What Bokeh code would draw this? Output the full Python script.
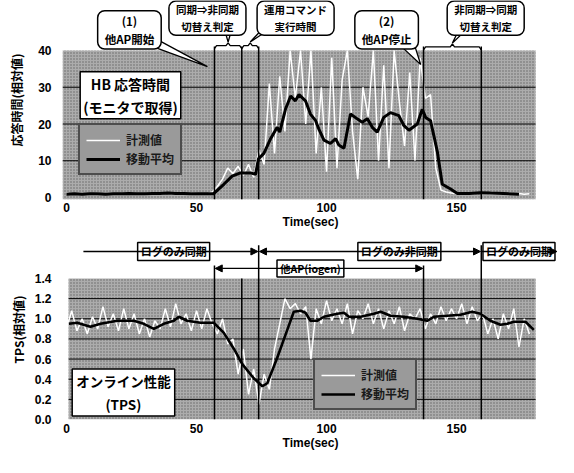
import numpy as np
from bokeh.plotting import figure
from bokeh.models import (Range1d, FixedTicker, PrintfTickFormatter, Legend, LegendItem,
                          Arrow, NormalHead)
from bokeh.layouts import column
from bokeh.embed import file_html
from bokeh.resources import INLINE
from bokeh.core.properties import value

# ---------------- data ----------------
x_ticks = [0, 50, 100, 150]
event_times = [56.9, 67.4, 73.9, 137.3, 159.5]

# HB response time (relative)
rt_y_ticks = [0, 10, 20, 30, 40]
rt_ma_t = [0, 3, 6, 9, 12, 15, 18, 21, 24, 27, 30, 33, 36, 39, 42, 45, 48, 51, 54, 56.5,
           60.5, 63.7, 66.9, 70.8, 72.7, 73.8, 75.9, 78.5, 81, 82, 84.2, 86.2, 88, 89.4, 91.9,
           93.8, 95.8, 97, 99, 101.5, 103.5, 104.7, 106.7, 109.2, 111.8, 113.7, 115.7, 117.6,
           119.5, 122, 124.6, 127.8, 129.7, 131.7, 134.9, 136.8, 138.1, 140, 142.6, 144.5,
           147.7, 150.3, 155, 159, 163, 168, 174]
rt_ma_v = [0.9, 1.0, 0.9, 1.0, 1.0, 0.9, 1.0, 1.0, 1.1, 1.0, 1.0, 1.1, 1.1, 1.2, 1.1, 1.1, 1.0, 1.0, 1.0, 1.0,
           3.6, 5.8, 6.7, 6.7, 6.3, 10.5, 12.0, 16.0, 19.1, 17.8, 24.0, 27.6, 26.3, 28.0, 26.3,
           22.7, 20.9, 18.7, 15.6, 14.7, 16.0, 14.3, 13.4, 22.7, 21.4, 20.5, 21.4, 19.1,
           17.8, 21.8, 23.1, 22.3, 19.6, 18.3, 20.0, 24.0, 21.8, 20.9, 12.5, 3.6,
           2.3, 1.1, 1.1, 1.3, 1.2, 1.1, 0.9]
rt_meas_v = [1.2, 0.9, 1.0, 1.1, 0.8, 1.0, 1.2, 0.9, 1.1, 1.0,
             0.9, 1.2, 1.0, 1.1, 0.9, 1.0, 1.3, 1.1, 0.9, 1.2,
             1.0, 1.1, 1.4, 1.0, 1.2, 1.1, 0.9, 1.0, 1.5, 3.0,
             5.0, 8.0, 6.5, 8.5, 6.0, 9.0, 5.5, 13.0, 9.0, 31.0,
             12.0, 33.0, 18.0, 40.0, 27.0, 40.0, 20.0, 40.0, 12.0, 30.0,
             7.0, 38.0, 8.0, 32.0, 40.0, 18.0, 5.0, 30.0, 22.0, 40.0,
             10.0, 36.0, 8.0, 40.0, 26.0, 14.0, 34.0, 10.0, 38.0, 27.0,
             28.0, 8.0, 2.0, 1.5, 1.2, 1.0, 1.1, 0.9, 1.0, 1.2,
             0.9, 1.0, 1.1, 1.0, 0.9, 1.2, 1.0, 1.1, 0.9, 1.0]

# Online performance TPS (relative)
tps_y_ticks = [0.0, 0.2, 0.4, 0.6, 0.8, 1.0, 1.2, 1.4]
tps_ma_t = [0.9, 4.1, 9.2, 13.1, 19.5, 25.9, 29.7, 33.6, 37.4, 41.3, 43.2, 46.4, 51.5, 56.7,
            60.5, 64.4, 67.6, 72, 75.3, 77.2, 81, 84.9, 87.4, 90, 91.9, 93.8, 96.4, 99, 104.1,
            106.7, 108.6, 113.1, 118.2, 120.8, 124.6, 129.7, 134.9, 138.7, 141.3, 146.4, 151.5,
            156, 159.2, 163, 166.9, 169.5, 172, 176.5, 179.7]
tps_ma_v = [0.95, 0.96, 0.92, 0.95, 0.98, 0.98, 0.95, 0.90, 0.95, 0.98, 1.02, 0.98, 0.96, 0.96,
            0.86, 0.70, 0.55, 0.41, 0.33, 0.36, 0.61, 0.89, 1.07, 1.08, 1.06, 0.98, 0.98, 1.02, 1.05,
            1.06, 1.02, 1.02, 1.05, 1.07, 1.03, 1.02, 1.00, 0.98, 1.02, 1.03, 1.04,
            1.07, 1.05, 0.98, 0.94, 0.95, 0.97, 0.97, 0.89]
tps_meas_v = [0.90, 1.08, 0.88, 1.00, 0.85, 1.02, 0.90, 1.12, 0.92, 1.05,
              0.88, 1.10, 0.90, 1.05, 0.85, 1.00, 0.82, 0.98, 0.90, 1.10,
              0.92, 1.15, 0.95, 1.05, 0.88, 1.08, 0.90, 1.10, 0.95, 0.85,
              1.00, 0.75, 0.80, 0.45, 0.70, 0.25, 0.50, 0.15, 0.45, 0.30,
              0.70, 0.95, 1.20, 1.10, 1.15, 1.05, 1.12, 0.60, 1.10, 0.95,
              1.18, 0.98, 1.10, 0.95, 1.15, 0.85, 1.08, 1.00, 1.15, 0.95,
              1.10, 0.90, 1.08, 0.95, 1.12, 0.88, 1.05, 1.00, 1.10, 0.90,
              1.05, 0.95, 1.12, 0.98, 1.10, 1.00, 1.15, 0.95, 1.12, 0.98,
              1.05, 0.85, 1.00, 0.80, 1.05, 0.90, 1.10, 0.72, 1.00, 0.85]

rt_meas_t = list(range(0, 2 * len(rt_meas_v), 2))
tps_meas_t = list(range(0, 2 * len(tps_meas_v), 2))

legend_labels = ["計測値", "移動平均"]
rt_title = "HB 応答時間\n(モニタで取得)"
tps_title = "オンライン性能\n(TPS)"
rt_ylabel = "応答時間(相対値)"
tps_ylabel = "TPS(相対値)"
xlabel = "Time(sec)"
callouts = ["(1)\n他AP開始", "同期⇒非同期\n切替え判定", "運用コマンド\n実行時間",
            "(2)\n他AP停止", "非同期⇒同期\n切替え判定"]
phase_labels = ["ログのみ同期", "ログのみ非同期", "ログのみ同期"]
load_label = "他AP(iogen)"

# ---------------- style ----------------
JP = "Noto Sans CJK JP"
LAT = "Liberation Sans"
GRAY = "#acacac"
XR = (-1.54, 189.2)
GRAY_RIGHT = 180.4


def base_fig(height, y0, y1, border_bottom, tick_standoff):
    p = figure(width=558, height=height, x_range=Range1d(*XR), y_range=Range1d(y0, y1),
               output_backend="svg", toolbar_location=None,
               min_border_left=62, min_border_right=0, min_border_top=0,
               min_border_bottom=border_bottom)
    p.outline_line_color = None
    p.grid.visible = False
    p.background_fill_color = "white"
    p.border_fill_color = "white"
    for ax in (p.xaxis, p.yaxis):
        ax.axis_line_color = None
        ax.major_tick_line_color = None
        ax.minor_tick_line_color = None
        ax.major_tick_out = 0
        ax.major_tick_in = 0
        ax.minor_tick_out = 0
        ax.minor_tick_in = 0
        ax.major_label_text_font = LAT
        ax.major_label_text_font_style = "bold"
        ax.major_label_text_font_size = "12px"
        ax.major_label_text_color = "black"
        ax.axis_label_text_font_style = "bold"
        ax.axis_label_text_font_size = "12px"
        ax.axis_label_text_color = "black"
    p.xaxis.ticker = FixedTicker(ticks=x_ticks)
    p.xaxis.major_label_standoff = tick_standoff
    p.xaxis.axis_label = xlabel
    p.xaxis.axis_label_text_font = LAT
    p.xaxis.axis_label_standoff = 0
    p.yaxis.major_label_standoff = 11
    p.yaxis.axis_label_text_font = JP
    return p


def box(p, x, y, txt, size, radius=0, pad=(4, 2)):
    p.text(x=[x], y=[y], text=[txt], text_font=value(JP), text_font_style="bold",
           text_font_size=f"{size}px", text_align="center", text_baseline="middle",
           text_color="black", text_line_height=1.15,
           background_fill_color="white", border_line_color="black", border_line_width=1.5,
           padding=pad, border_radius=radius)


def brace(p, a, b, y, d):
    m = (a + b) / 2
    xs = [a, a + 0.8, m - 0.8, m, m + 0.8, b - 0.8, b]
    ys = [y - d, y, y, y + d, y, y, y - d]
    p.line(xs, ys, line_color="black", line_width=1.3)


def legend(p, rm, rma, loc):
    lg = Legend(items=[LegendItem(label=legend_labels[0], renderers=[rm]),
                       LegendItem(label=legend_labels[1], renderers=[rma])],
                location=loc, background_fill_color="#9a9a9a", background_fill_alpha=1.0,
                border_line_color="black", border_line_width=2,
                label_text_font=JP, label_text_font_style="bold", label_text_font_size="12px",
                label_text_color="#1a1a1a", glyph_width=34, glyph_height=14, label_height=14,
                spacing=2, padding=6, label_standoff=6, margin=0)
    p.add_layout(lg)


# ================= top figure: HB response time =================
RT_Y0 = -0.54
p1 = base_fig(239, RT_Y0, 53.6, 40, 3)
p1.yaxis.ticker = FixedTicker(ticks=rt_y_ticks)
p1.yaxis.bounds = (rt_y_ticks[0], rt_y_ticks[-1])
p1.yaxis.axis_label = rt_ylabel
p1.yaxis.axis_label_standoff = 10
p1.quad(left=XR[0], right=GRAY_RIGHT, bottom=RT_Y0, top=rt_y_ticks[-1], fill_color=GRAY,
        line_color=None, hatch_pattern="dot", hatch_color="#333333", hatch_scale=3,
        hatch_alpha=0.6)
p1.segment(x0=XR[0], x1=GRAY_RIGHT, y0=rt_y_ticks[1:-1], y1=rt_y_ticks[1:-1],
           line_color="black", line_width=1)
rm1 = p1.line(rt_meas_t, rt_meas_v, line_color="white", line_width=1.5)
rma1 = p1.line(rt_ma_t, rt_ma_v, line_color="black", line_width=3)
p1.segment(x0=event_times, x1=event_times, y0=41.1, y1=RT_Y0, line_color="black", line_width=1.5)

# braces
brace(p1, event_times[0], event_times[1], 41.3, 0.8)
brace(p1, event_times[1], event_times[2], 41.3, 0.8)
brace(p1, event_times[3], event_times[4], 41.0, 0.8)
m01 = (event_times[0] + event_times[1]) / 2
m12 = (event_times[1] + event_times[2]) / 2
m34 = (event_times[3] + event_times[4]) / 2
# callout tails
p1.patches(xs=[[29.2, 54.2, 34.6], [m01 - 1.5, m01, m01 + 1.5], [75.5, m12, 78.5],
               [127.7, 136.2, 133.1], [150.8, m34, 153.5]],
           ys=[[42.1, 35.6, 43.1], [46.0, 42.3, 46.0], [46.0, 42.3, 46.0],
               [41.8, 36.2, 43.1], [45.5, 42.0, 45.5]],
           fill_color="white", line_color="black", line_width=1.3)
box(p1, 24.2, 45.6, callouts[0], 11.5, radius=7, pad=(7, 2))
box(p1, 54.2, 48.8, callouts[1], 10.5, radius=7, pad=(7, 1))
box(p1, 88.1, 48.8, callouts[2], 10.5, radius=7, pad=(7, 1))
box(p1, 123.1, 45.6, callouts[3], 11.5, radius=7, pad=(7, 2))
box(p1, 161.2, 48.8, callouts[4], 10.5, radius=7, pad=(7, 1))

box(p1, 24.6, 27.8, rt_title, 14, radius=0, pad=(3, 2))
legend(p1, rm1, rma1, (16, 24))

# ================= bottom figure: TPS =================
p2 = base_fig(218, 0.0, 1.787, 38, 4)
p2.yaxis.ticker = FixedTicker(ticks=tps_y_ticks)
p2.yaxis.formatter = PrintfTickFormatter(format="%.1f")
p2.yaxis.bounds = (tps_y_ticks[0], tps_y_ticks[-1])
p2.yaxis.axis_label = tps_ylabel
p2.yaxis.axis_label_standoff = 5
p2.quad(left=0.8, right=GRAY_RIGHT, bottom=tps_y_ticks[0], top=tps_y_ticks[-1], fill_color=GRAY,
        line_color=None, hatch_pattern="dot", hatch_color="#333333", hatch_scale=3,
        hatch_alpha=0.6)
p2.segment(x0=0.8, x1=GRAY_RIGHT, y0=tps_y_ticks[1:-1], y1=tps_y_ticks[1:-1],
           line_color="black", line_width=1)
rm2 = p2.line(tps_meas_t, tps_meas_v, line_color="white", line_width=1.5)
rma2 = p2.line(tps_ma_t, tps_ma_v, line_color="black", line_width=2.6)
p2.segment(x0=event_times, x1=event_times, y0=[1.53, 1.40, 1.73, 1.53, 1.73], y1=0.0,
           line_color="black", line_width=1.5)


def head():
    return NormalHead(size=7, fill_color="black", line_color="black", line_width=1)


row1, row2 = 1.668, 1.50
p2.add_layout(Arrow(x_start=6.5, y_start=row1, x_end=event_times[2] - 0.3, y_end=row1,
                    end=head(), line_width=1.3))
p2.add_layout(Arrow(x_start=event_times[2] + 0.3, y_start=row1, x_end=event_times[4] - 0.3,
                    y_end=row1, start=head(), end=head(), line_width=1.3))
p2.add_layout(Arrow(x_start=event_times[4] + 0.3, y_start=row1, x_end=188.6, y_end=row1,
                    end=head(), line_width=1.3))
p2.add_layout(Arrow(x_start=event_times[0] + 0.3, y_start=row2, x_end=event_times[3] - 0.3,
                    y_end=row2, start=head(), end=head(), line_width=1.3))
box(p2, 41.2, row1, phase_labels[0], 11, pad=(3, 1))
box(p2, 128.0, row1, phase_labels[1], 11, pad=(3, 1))
box(p2, 174.0, row1, phase_labels[2], 11, pad=(3, 1))
box(p2, 93.8, row2, load_label, 10.5, pad=(3, 1))

box(p2, 21.9, 0.268, tps_title, 13.5, radius=0, pad=(4, 2))
legend(p2, rm2, rma2, (251, 9))

layout = column(p1, p2, spacing=0)
open("out.html", "w").write(file_html(layout, INLINE))
